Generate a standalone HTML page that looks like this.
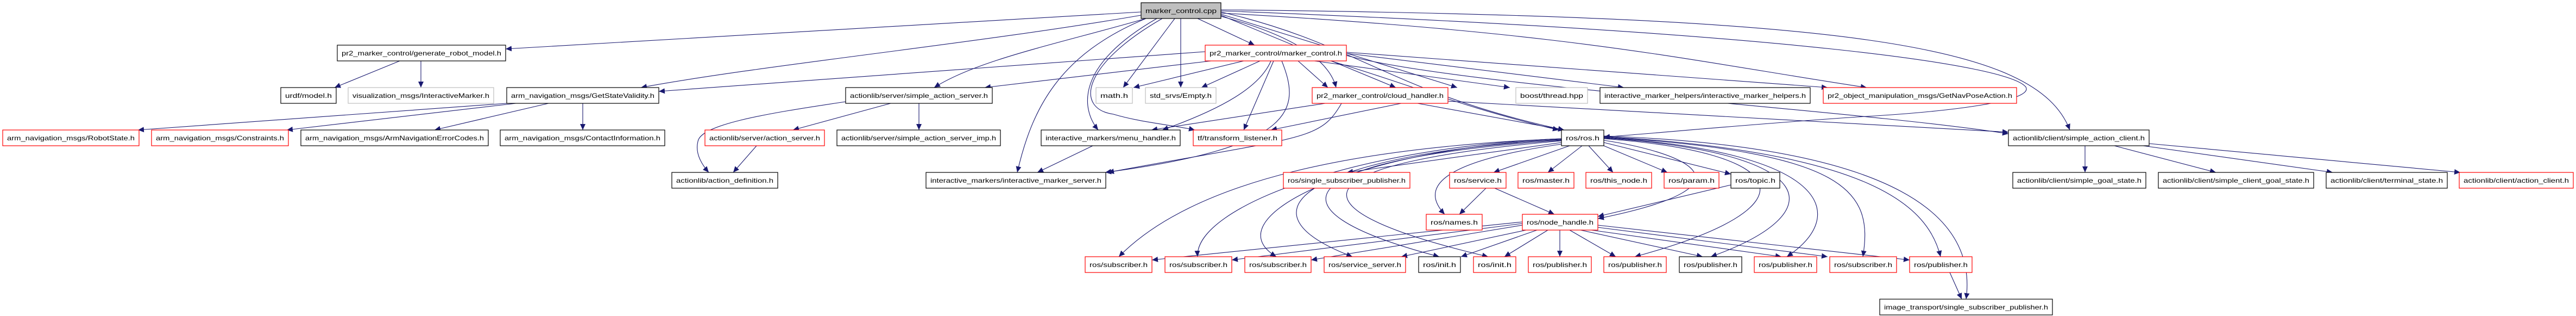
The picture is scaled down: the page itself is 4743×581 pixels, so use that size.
<!DOCTYPE html>
<html><head><meta charset="utf-8"><style>
html,body{margin:0;padding:0;background:#fff;}
svg{display:block;}
text{font-family:"Liberation Sans",sans-serif;font-size:12px;fill:#000;}
.e{fill:none;stroke:#191970;stroke-width:1.1;marker-end:url(#a);}
.k{fill:#fff;stroke:#000;stroke-width:1.2;}
.r{fill:#fff;stroke:#ff0000;stroke-width:1.2;}
.g{fill:#fff;stroke:#bfbfbf;stroke-width:1.2;}
</style></head><body>
<svg width="4743" height="581" viewBox="0 0 4743 581" xmlns="http://www.w3.org/2000/svg">
<defs><marker id="a" markerUnits="userSpaceOnUse" markerWidth="12" markerHeight="10" refX="11" refY="5" orient="auto"><path d="M0,0 L11,5 L0,10 z" fill="#191970"/></marker></defs>
<g>
<path class="e" d="M2101,22 L931,90"/>
<path class="e" d="M2101,28 C1800,80 1400,120 1180,161"/>
<path class="e" d="M2110,34 C1950,80 1800,110 1720,161"/>
<path class="e" d="M2110,34 C1950,100 1900,200 1873,317"/>
<path class="e" d="M2130,34 C1980,120 1990,200 2022,239"/>
<path class="e" d="M2163,34 L2068,161"/>
<path class="e" d="M2174,34 L2174,161"/>
<path class="e" d="M2205,34 L2310,83"/>
<path class="e" d="M2140,34 C1990,120 1980,200 2050,210 C2100,225 2160,230 2200,239"/>
<path class="e" d="M2248,30 C2400,70 2450,120 2460,161"/>
<path class="e" d="M2248,28 L2570,161"/>
<path class="e" d="M2248,26 L2683,161"/>
<path class="e" d="M2248,24 C2900,60 3100,110 3437,161"/>
<path class="e" d="M2248,22 C2500,80 2560,170 2880,239"/>
<path class="e" d="M2248,18 C3400,30 3750,80 3811,239"/>
<path class="e" d="M2248,20 C3300,60 3700,120 3730,160 C3745,185 3600,205 3420,215 C3200,230 3050,245 2953,252"/>
<path class="e" d="M2219,95 L1213,168"/>
<path class="e" d="M2230,112 L1813,161"/>
<path class="e" d="M2290,112 L2087,161"/>
<path class="e" d="M2320,112 L2212,161"/>
<path class="e" d="M2340,112 C2320,160 2250,200 2140,239"/>
<path class="e" d="M2345,112 L2290,239"/>
<path class="e" d="M2360,112 C2395,200 2390,270 2035,317"/>
<path class="e" d="M2390,112 L2445,161"/>
<path class="e" d="M2420,112 L2780,161"/>
<path class="e" d="M2479,98 L2990,161"/>
<path class="e" d="M2479,96 L3365,161"/>
<path class="e" d="M2450,112 C2580,150 2700,200 2870,239"/>
<path class="e" d="M2479,102 C2700,160 3400,200 3698,246"/>
<path class="e" d="M2440,190 L2120,239"/>
<path class="e" d="M2470,190 C2430,260 2400,250 2040,317"/>
<path class="e" d="M2610,190 L2880,239"/>
<path class="e" d="M2580,190 L2340,239"/>
<path class="e" d="M2666,186 L3698,243"/>
<path class="e" d="M736,112 L616,161"/>
<path class="e" d="M775,112 L775,161"/>
<path class="e" d="M933,190 L254,239"/>
<path class="e" d="M950,190 L528,239"/>
<path class="e" d="M1010,190 L800,239"/>
<path class="e" d="M1073,190 L1073,239"/>
<path class="e" d="M1640,190 L1460,239"/>
<path class="e" d="M1692,190 L1692,239"/>
<path class="e" d="M1557,187 C1400,210 1290,230 1285,260 C1280,280 1290,300 1305,317"/>
<path class="e" d="M1393,268 L1350,317"/>
<path class="e" d="M2012,268 L1910,317"/>
<path class="e" d="M2875,262 L2480,317"/>
<path class="e" d="M2890,268 L2750,317"/>
<path class="e" d="M2913,268 L2850,317"/>
<path class="e" d="M2925,268 L2970,317"/>
<path class="e" d="M2953,268 L3070,317"/>
<path class="e" d="M2953,262 L3187,320"/>
<path class="e" d="M2875,265 C2700,290 2600,330 2660,394"/>
<path class="e" d="M2953,258 C3100,280 3250,340 2942,402"/>
<path class="e" d="M2875,255 C2500,270 2200,330 2060,472"/>
<path class="e" d="M2875,255 C2500,270 2200,380 2205,472"/>
<path class="e" d="M2875,256 C2500,272 2230,400 2350,472"/>
<path class="e" d="M2875,257 C2450,280 2250,380 2490,472"/>
<path class="e" d="M2875,258 C2400,290 2300,380 2650,472"/>
<path class="e" d="M2875,259 C2400,300 2350,380 2740,472"/>
<path class="e" d="M2953,255 C3300,280 3350,380 3010,472"/>
<path class="e" d="M2953,254 C3350,280 3380,390 3150,472"/>
<path class="e" d="M2953,253 C3380,280 3400,400 3290,472"/>
<path class="e" d="M2953,252 C3400,280 3450,350 3430,472"/>
<path class="e" d="M2953,251 C3450,280 3550,380 3573,472"/>
<path class="e" d="M2953,250 C3500,270 3640,400 3620,550"/>
<path class="e" d="M2736,346 L2687,394"/>
<path class="e" d="M2752,346 L2862,394"/>
<path class="e" d="M3187,340 L2942,398"/>
<path class="e" d="M2803,408 L2121,478"/>
<path class="e" d="M2803,411 L2268,478"/>
<path class="e" d="M2803,414 L2414,478"/>
<path class="e" d="M2810,423 L2580,472"/>
<path class="e" d="M2830,423 L2690,472"/>
<path class="e" d="M2850,423 L2770,472"/>
<path class="e" d="M2872,423 L2872,472"/>
<path class="e" d="M2890,423 L2975,472"/>
<path class="e" d="M2910,423 L3135,472"/>
<path class="e" d="M2930,423 L3280,472"/>
<path class="e" d="M2942,418 L3365,472"/>
<path class="e" d="M2942,414 L3516,478"/>
<path class="e" d="M3590,501 L3612,550"/>
<path class="e" d="M3839,268 L3839,317"/>
<path class="e" d="M3893,268 L4080,317"/>
<path class="e" d="M3946,268 L4295,317"/>
<path class="e" d="M3957,264 L4530,317"/>
</g>
<g>
<rect x="2101" y="5" width="147" height="29" fill="#bfbfbf" stroke="#000" stroke-width="1.2"/><text x="2109" y="24" textLength="131" lengthAdjust="spacingAndGlyphs">marker_control.cpp</text>
<rect class="k" x="621" y="83" width="310" height="29"/><text x="629" y="102" textLength="294" lengthAdjust="spacingAndGlyphs">pr2_marker_control/generate_robot_model.h</text>
<rect class="r" x="2219" y="83" width="260" height="29"/><text x="2227" y="102" textLength="244" lengthAdjust="spacingAndGlyphs">pr2_marker_control/marker_control.h</text>
<rect class="k" x="517" y="161" width="102" height="29"/><text x="525" y="180" textLength="86" lengthAdjust="spacingAndGlyphs">urdf/model.h</text>
<rect class="g" x="641" y="161" width="268" height="29"/><text x="649" y="180" textLength="252" lengthAdjust="spacingAndGlyphs">visualization_msgs/InteractiveMarker.h</text>
<rect class="k" x="933" y="161" width="280" height="29"/><text x="941" y="180" textLength="264" lengthAdjust="spacingAndGlyphs">arm_navigation_msgs/GetStateValidity.h</text>
<rect class="k" x="1557" y="161" width="270" height="29"/><text x="1565" y="180" textLength="254" lengthAdjust="spacingAndGlyphs">actionlib/server/simple_action_server.h</text>
<rect class="g" x="2018" y="161" width="67" height="29"/><text x="2026" y="180" textLength="51" lengthAdjust="spacingAndGlyphs">math.h</text>
<rect class="g" x="2109" y="161" width="130" height="29"/><text x="2117" y="180" textLength="114" lengthAdjust="spacingAndGlyphs">std_srvs/Empty.h</text>
<rect class="r" x="2416" y="161" width="250" height="29"/><text x="2424" y="180" textLength="234" lengthAdjust="spacingAndGlyphs">pr2_marker_control/cloud_handler.h</text>
<rect class="g" x="2791" y="161" width="132" height="29"/><text x="2799" y="180" textLength="116" lengthAdjust="spacingAndGlyphs">boost/thread.hpp</text>
<rect class="k" x="2946" y="161" width="387" height="29"/><text x="2954" y="180" textLength="371" lengthAdjust="spacingAndGlyphs">interactive_marker_helpers/interactive_marker_helpers.h</text>
<rect class="r" x="3357" y="161" width="356" height="29"/><text x="3365" y="180" textLength="340" lengthAdjust="spacingAndGlyphs">pr2_object_manipulation_msgs/GetNavPoseAction.h</text>
<rect class="r" x="5" y="239" width="251" height="29"/><text x="13" y="258" textLength="235" lengthAdjust="spacingAndGlyphs">arm_navigation_msgs/RobotState.h</text>
<rect class="r" x="279" y="239" width="252" height="29"/><text x="287" y="258" textLength="236" lengthAdjust="spacingAndGlyphs">arm_navigation_msgs/Constraints.h</text>
<rect class="k" x="554" y="239" width="345" height="29"/><text x="562" y="258" textLength="329" lengthAdjust="spacingAndGlyphs">arm_navigation_msgs/ArmNavigationErrorCodes.h</text>
<rect class="k" x="921" y="239" width="303" height="29"/><text x="929" y="258" textLength="287" lengthAdjust="spacingAndGlyphs">arm_navigation_msgs/ContactInformation.h</text>
<rect class="r" x="1298" y="239" width="220" height="29"/><text x="1306" y="258" textLength="204" lengthAdjust="spacingAndGlyphs">actionlib/server/action_server.h</text>
<rect class="k" x="1541" y="239" width="301" height="29"/><text x="1549" y="258" textLength="285" lengthAdjust="spacingAndGlyphs">actionlib/server/simple_action_server_imp.h</text>
<rect class="k" x="1917" y="239" width="256" height="29"/><text x="1925" y="258" textLength="240" lengthAdjust="spacingAndGlyphs">interactive_markers/menu_handler.h</text>
<rect class="r" x="2197" y="239" width="163" height="29"/><text x="2205" y="258" textLength="147" lengthAdjust="spacingAndGlyphs">tf/transform_listener.h</text>
<rect class="k" x="2875" y="239" width="78" height="29"/><text x="2883" y="258" textLength="62" lengthAdjust="spacingAndGlyphs">ros/ros.h</text>
<rect class="k" x="3698" y="239" width="259" height="29"/><text x="3706" y="258" textLength="243" lengthAdjust="spacingAndGlyphs">actionlib/client/simple_action_client.h</text>
<rect class="k" x="1237" y="317" width="195" height="29"/><text x="1245" y="336" textLength="179" lengthAdjust="spacingAndGlyphs">actionlib/action_definition.h</text>
<rect class="k" x="1705" y="317" width="331" height="29"/><text x="1713" y="336" textLength="315" lengthAdjust="spacingAndGlyphs">interactive_markers/interactive_marker_server.h</text>
<rect class="r" x="2363" y="317" width="233" height="29"/><text x="2371" y="336" textLength="217" lengthAdjust="spacingAndGlyphs">ros/single_subscriber_publisher.h</text>
<rect class="r" x="2669" y="317" width="104" height="29"/><text x="2677" y="336" textLength="88" lengthAdjust="spacingAndGlyphs">ros/service.h</text>
<rect class="r" x="2795" y="317" width="103" height="29"/><text x="2803" y="336" textLength="87" lengthAdjust="spacingAndGlyphs">ros/master.h</text>
<rect class="r" x="2920" y="317" width="121" height="29"/><text x="2928" y="336" textLength="105" lengthAdjust="spacingAndGlyphs">ros/this_node.h</text>
<rect class="r" x="3064" y="317" width="101" height="29"/><text x="3072" y="336" textLength="85" lengthAdjust="spacingAndGlyphs">ros/param.h</text>
<rect class="k" x="3187" y="317" width="90" height="29"/><text x="3195" y="336" textLength="74" lengthAdjust="spacingAndGlyphs">ros/topic.h</text>
<rect class="k" x="3706" y="317" width="245" height="29"/><text x="3714" y="336" textLength="229" lengthAdjust="spacingAndGlyphs">actionlib/client/simple_goal_state.h</text>
<rect class="k" x="3974" y="317" width="286" height="29"/><text x="3982" y="336" textLength="270" lengthAdjust="spacingAndGlyphs">actionlib/client/simple_client_goal_state.h</text>
<rect class="k" x="4283" y="317" width="223" height="29"/><text x="4291" y="336" textLength="207" lengthAdjust="spacingAndGlyphs">actionlib/client/terminal_state.h</text>
<rect class="r" x="4528" y="317" width="210" height="29"/><text x="4536" y="336" textLength="194" lengthAdjust="spacingAndGlyphs">actionlib/client/action_client.h</text>
<rect class="r" x="2626" y="394" width="103" height="29"/><text x="2634" y="413" textLength="87" lengthAdjust="spacingAndGlyphs">ros/names.h</text>
<rect class="r" x="2803" y="394" width="139" height="29"/><text x="2811" y="413" textLength="123" lengthAdjust="spacingAndGlyphs">ros/node_handle.h</text>
<rect class="r" x="1998" y="472" width="123" height="29"/><text x="2006" y="491" textLength="107" lengthAdjust="spacingAndGlyphs">ros/subscriber.h</text>
<rect class="r" x="2145" y="472" width="123" height="29"/><text x="2153" y="491" textLength="107" lengthAdjust="spacingAndGlyphs">ros/subscriber.h</text>
<rect class="r" x="2292" y="472" width="122" height="29"/><text x="2300" y="491" textLength="106" lengthAdjust="spacingAndGlyphs">ros/subscriber.h</text>
<rect class="r" x="2438" y="472" width="150" height="29"/><text x="2446" y="491" textLength="134" lengthAdjust="spacingAndGlyphs">ros/service_server.h</text>
<rect class="k" x="2612" y="472" width="77" height="29"/><text x="2620" y="491" textLength="61" lengthAdjust="spacingAndGlyphs">ros/init.h</text>
<rect class="r" x="2713" y="472" width="78" height="29"/><text x="2721" y="491" textLength="62" lengthAdjust="spacingAndGlyphs">ros/init.h</text>
<rect class="r" x="2814" y="472" width="116" height="29"/><text x="2822" y="491" textLength="100" lengthAdjust="spacingAndGlyphs">ros/publisher.h</text>
<rect class="r" x="2953" y="472" width="115" height="29"/><text x="2961" y="491" textLength="99" lengthAdjust="spacingAndGlyphs">ros/publisher.h</text>
<rect class="k" x="3092" y="472" width="115" height="29"/><text x="3100" y="491" textLength="99" lengthAdjust="spacingAndGlyphs">ros/publisher.h</text>
<rect class="r" x="3230" y="472" width="115" height="29"/><text x="3238" y="491" textLength="99" lengthAdjust="spacingAndGlyphs">ros/publisher.h</text>
<rect class="r" x="3369" y="472" width="123" height="29"/><text x="3377" y="491" textLength="107" lengthAdjust="spacingAndGlyphs">ros/subscriber.h</text>
<rect class="r" x="3516" y="472" width="115" height="29"/><text x="3524" y="491" textLength="99" lengthAdjust="spacingAndGlyphs">ros/publisher.h</text>
<rect class="k" x="3461" y="550" width="318" height="29"/><text x="3469" y="569" textLength="302" lengthAdjust="spacingAndGlyphs">image_transport/single_subscriber_publisher.h</text>
</g>
</svg>
</body></html>
